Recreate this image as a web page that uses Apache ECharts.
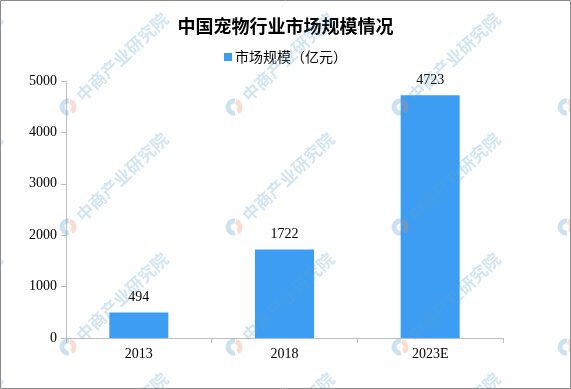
<!DOCTYPE html>
<html>
<head>
<meta charset="utf-8">
<script src="https://cdn.jsdelivr.net/npm/echarts@6/dist/echarts.min.js"></script>
<style>
html,body{margin:0;padding:0;background:#fff;}
#c{width:571px;height:389px;}
</style>
</head>
<body>
<div id="c"></div>
<script>
var categories = ['2013', '2018', '2023E'];
var marketSize = [494, 1722, 4723];
var yTicks = [0, 1000, 2000, 3000, 4000, 5000];

var chart = echarts.init(document.getElementById('c'), null, {renderer: 'canvas'});

// watermark decoration
var wm = [];
var rot = 0.76;
for (var i = -1; i <= 3; i++) {
  for (var j = 0; j <= 4; j++) {
    var x0 = 68 + 166 * i, y0 = -13 + 120 * j;
    wm.push({
      type: 'arc', silent: true, z: 100,
      shape: {cx: x0, cy: y0, r: 6, startAngle: Math.PI * 0.45, endAngle: Math.PI * 1.55, clockwise: true},
      style: {stroke: 'rgba(90,160,210,0.3)', lineWidth: 5, fill: null}
    });
    wm.push({
      type: 'arc', silent: true, z: 100,
      shape: {cx: x0, cy: y0, r: 6, startAngle: -Math.PI * 0.4, endAngle: Math.PI * 0.3, clockwise: true},
      style: {stroke: 'rgba(240,140,100,0.3)', lineWidth: 5, fill: null}
    });
    wm.push({
      type: 'text', silent: true, z: 100,
      x: x0 + 11, y: y0 - 9, rotation: rot,
      style: {text: '中商产业研究院', fill: 'rgba(90,160,210,0.28)', font: 'bold 17px "Noto Sans CJK SC"', textVerticalAlign: 'middle', textAlign: 'left'}
    });
  }
}
wm.push({
  type: 'rect', silent: true, z: 200,
  shape: {x: 0.5, y: 0.5, width: 570, height: 388},
  style: {stroke: '#8a8a8a', lineWidth: 1, fill: null}
});

var option = {
  backgroundColor: '#fff',
  animation: false,
  title: {
    text: '中国宠物行业市场规模情况',
    left: 'center', top: 12,
    textStyle: {fontFamily: '"Noto Sans CJK SC"', fontWeight: 'bold', fontSize: 18, color: '#000'}
  },
  legend: {
    top: 45, left: 'center',
    itemWidth: 8, itemHeight: 8, itemGap: 10,
    icon: 'rect',
    textStyle: {fontFamily: '"Noto Sans CJK SC"', fontSize: 14, color: '#000', padding: [0,0,0,-2]},
    data: ['市场规模（亿元）']
  },
  grid: {left: 66, right: 68, top: 81, bottom: 51, containLabel: false},
  xAxis: {
    type: 'category',
    data: categories,
    axisLine: {lineStyle: {color: '#bfbfbf'}},
    axisTick: {show: true, length: 5, lineStyle: {color: '#bfbfbf'}},
    axisLabel: {fontFamily: '"Liberation Serif"', fontSize: 14, color: '#000', margin: 9}
  },
  yAxis: {
    type: 'value',
    min: 0, max: 5000, interval: 1000,
    axisLine: {show: true, lineStyle: {color: '#bfbfbf'}},
    axisTick: {show: true, length: 5, lineStyle: {color: '#bfbfbf'}},
    splitLine: {show: false},
    axisLabel: {
      fontFamily: '"Liberation Serif"', fontSize: 14, color: '#000', margin: 9,
      formatter: function (v) { return yTicks.indexOf(v) >= 0 ? String(v) : ''; }
    }
  },
  series: [{
    name: '市场规模（亿元）',
    type: 'bar',
    data: marketSize,
    barWidth: 59,
    itemStyle: {color: '#3d9df3'},
    label: {show: true, position: 'top', distance: 8, fontFamily: '"Liberation Serif"', fontSize: 14, color: '#000'}
  }],
  graphic: wm
};
chart.setOption(option);
</script>
</body>
</html>
